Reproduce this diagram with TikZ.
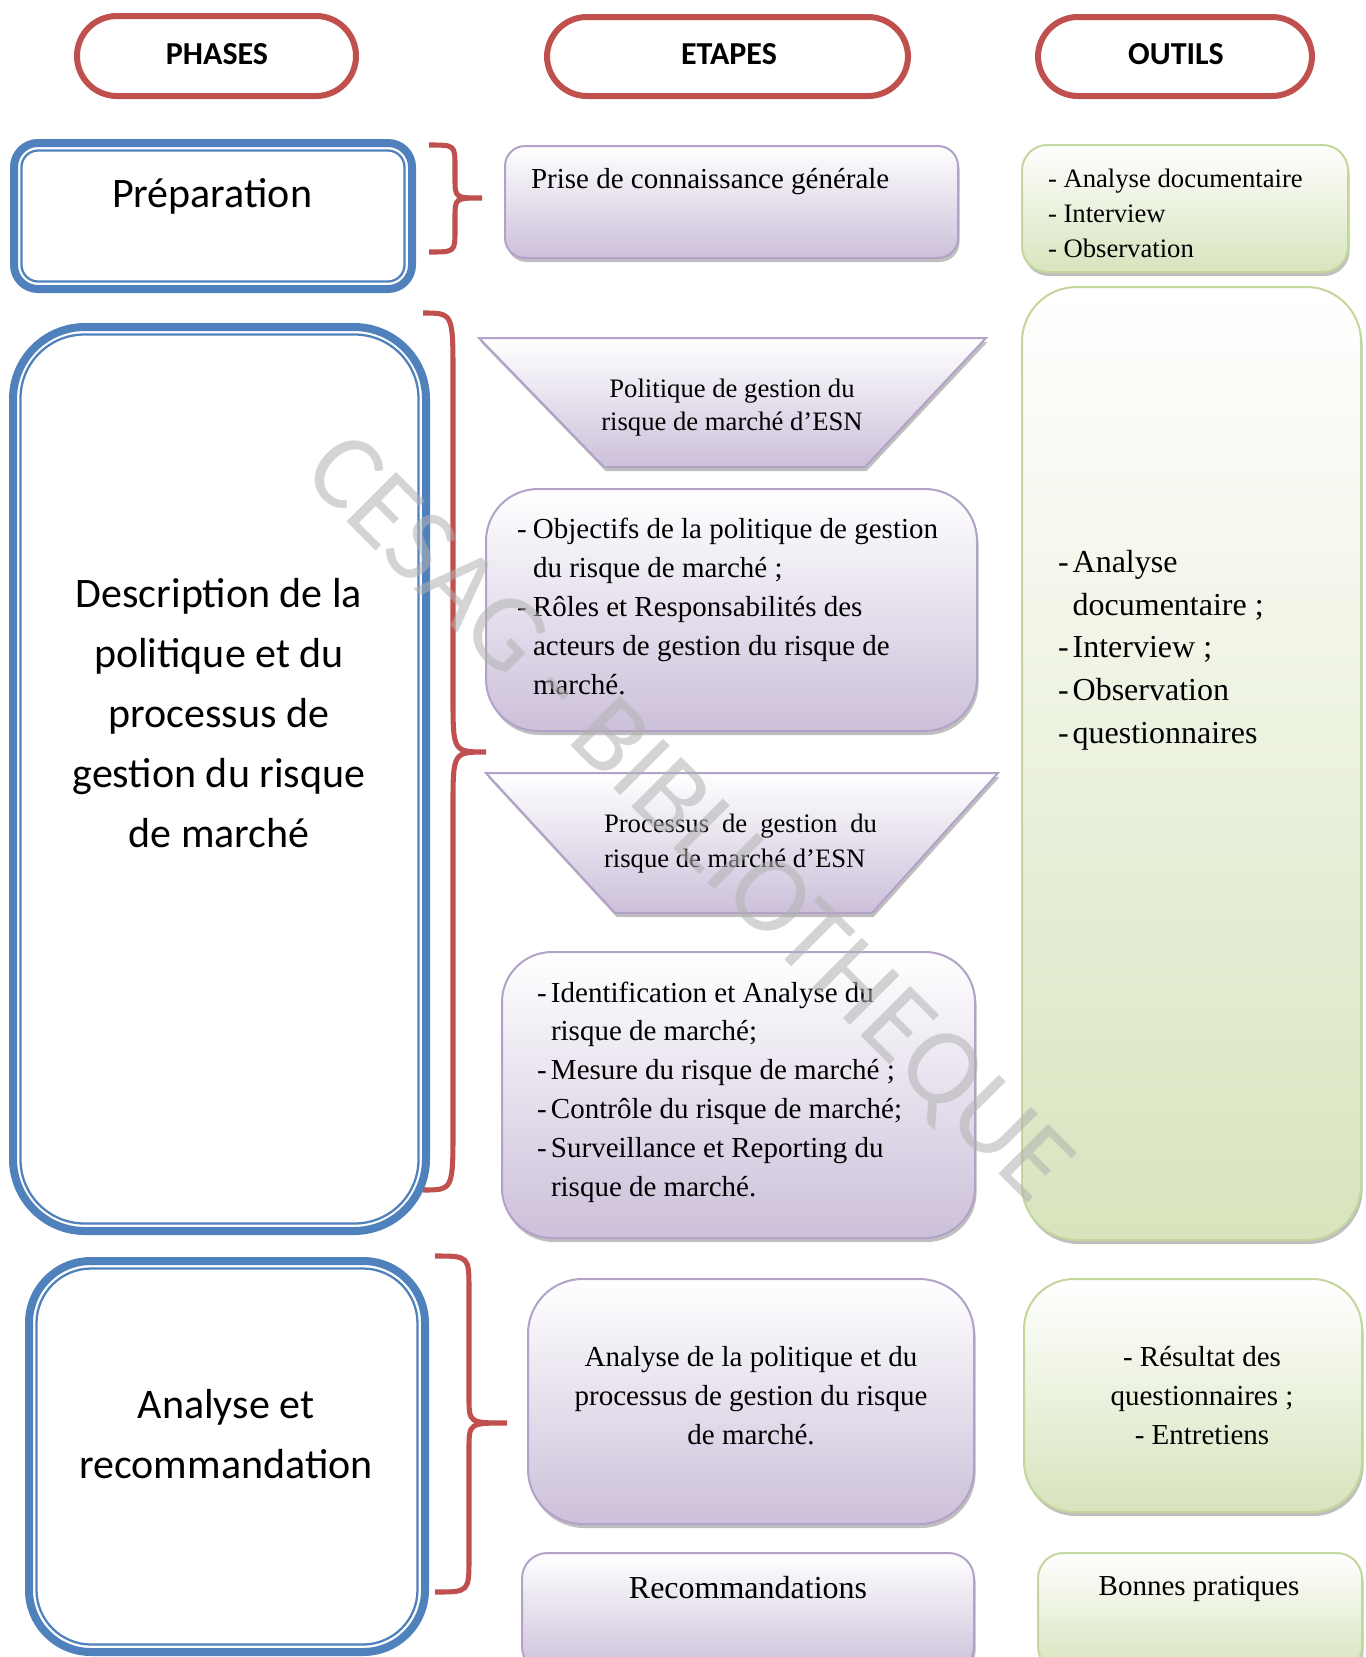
\documentclass[tikz,border=0pt]{standalone}
\usepackage{fontspec}
\setmainfont{Liberation Serif}
\newfontfamily\calfont{Carlito}
\usetikzlibrary{shadows}
\definecolor{redb}{HTML}{C0504D}
\definecolor{blueb}{HTML}{4F81BD}
\definecolor{purpb}{HTML}{B3A2C7}
\definecolor{purpf}{HTML}{CCC0DA}
\definecolor{greenb}{HTML}{C3D69B}
\definecolor{greenf}{HTML}{D7E4BD}
\newcommand\boxat[6]{%
  \node[#6, anchor=north west, inner sep=0pt, outer sep=0pt,
        minimum width={(#4-#2)*0.75pt}, minimum height={(#5-#3)*0.75pt}] (#1) at (#2,#3) {};}
\newcommand\rbrc[8]{%
  \draw[curlyb] (#1,#4) .. controls (#2,#4) .. (#2,#4+#7) -- (#2,#5-#8)
     .. controls (#2,#5) .. (#3,#5) .. controls (#2,#5) .. (#2,#5+#8)
     -- (#2,#6-#7) .. controls (#2,#6) .. (#1,#6);}
\begin{document}
\begin{tikzpicture}[x=0.75pt,y=-0.75pt,
  pill/.style={draw=redb, line width=4.5pt, fill=white, rounded corners=30pt},
  bluethick/.style={draw=blueb, line width=6pt, fill=white},
  bluethin/.style={draw=blueb, line width=1.7pt},
  shad/.style={drop shadow={shadow xshift=1.2pt, shadow yshift=-3pt, fill=black!55, opacity=0.45}},
  pbox/.style={draw=purpb, line width=1.5pt, top color=white, bottom color=purpf, shad},
  gbox/.style={draw=greenb, line width=1.5pt, top color=white, bottom color=greenf, shad},
  curlyb/.style={draw=redb, line width=3.8pt},
  txt/.style={inner sep=0pt, outer sep=0pt},
  hdr/.style={txt, font=\calfont\bfseries\fontsize{24pt}{28pt}\selectfont, anchor=base},
  phase/.style={txt, font=\calfont\fontsize{31.5pt}{45pt}\selectfont, anchor=base, align=center},
  body/.style={txt, font=\fontsize{21.75pt}{29.1pt}\selectfont}
]
\fill[white] (0,0) rectangle (1365,1657);
\useasboundingbox (0,0) rectangle (1365,1657);

% header pills
\boxat{pphases}{77}{16}{356}{96}{pill}
\boxat{petapes}{547}{17}{908}{96}{pill}
\boxat{poutils}{1038}{17}{1312}{96}{pill}
\node[hdr] (tphases) at (217,64) {PHASES};
\node[hdr] (tetapes) at (729,64) {ETAPES};
\node[hdr] (toutils) at (1176,64) {OUTILS};

% phase boxes (multi-line nodes are anchored at the baseline of their last line)
\boxat{prepA}{14}{143}{412}{289}{bluethick, rounded corners=18pt}
\boxat{prepB}{21.5}{150.5}{404.5}{281.5}{bluethin, rounded corners=12.5pt}
\node[phase] (tprep) at (212,207) {Préparation};

\boxat{descA}{13}{327}{426}{1231}{bluethick, rounded corners=54pt}
\boxat{descB}{20.5}{334.5}{418.5}{1223.5}{bluethin, rounded corners=48pt}
\node[phase] (tdesc) at (219,847) {Description de la\\politique et du\\processus de\\gestion du risque\\de marché};

\boxat{anaA}{29}{1261}{425}{1652}{bluethick, rounded corners=46.5pt}
\boxat{anaB}{36.5}{1268.5}{417.5}{1644.5}{bluethin, rounded corners=41pt}
\node[phase] (tana) at (226,1478) {Analyse et\\recommandation};

% braces
\rbrc{429}{455}{482}{145}{198}{252}{22}{20}
\rbrc{423}{453}{486}{313}{752}{1190}{62}{55}
\rbrc{435}{469}{507}{1256}{1423}{1592}{34}{26}

% etapes
\boxat{prise}{505}{146}{958}{258}{pbox, rounded corners=15pt}
\node[body, anchor=base west] (tprise) at (531,188) {Prise de connaissance générale};

\draw[pbox] (479,338) -- (986,338) -- (865,467) -- (604,467) -- cycle;
\node[txt, font=\fontsize{20pt}{24.75pt}\selectfont, anchor=base, align=center] (tpol) at (732,430)
  {Politique de gestion du\\risque de marché d’ESN};

\boxat{obj}{486}{489}{977}{731}{pbox, rounded corners=39pt}
\node[body, anchor=base west, align=left] (tobj) at (517,694)
  {\makebox[12pt][l]{-}Objectifs de la politique de gestion\\
   \hspace*{12pt}du risque de marché ;\\
   \makebox[12pt][l]{-}Rôles et Responsabilités des\\
   \hspace*{12pt}acteurs de gestion du risque de\\
   \hspace*{12pt}marché.};

\draw[pbox] (486,773) -- (998,773) -- (872,913) -- (615,913) -- cycle;
\node[txt, font=\fontsize{20pt}{26.25pt}\selectfont, anchor=base west, align=left] (tproc) at (604,867)
  {\makebox[204.75pt][s]{Processus de gestion du}\\risque de marché d’ESN};

\boxat{ident}{502}{952}{975}{1238}{pbox, rounded corners=37.5pt}
\node[body, anchor=base west, align=left] (tident) at (537,1196)
  {\makebox[10.5pt][l]{-}Identification et Analyse du\\
   \hspace*{10.5pt}risque de marché;\\
   \makebox[10.5pt][l]{-}Mesure du risque de marché ;\\
   \makebox[10.5pt][l]{-}Contrôle du risque de marché;\\
   \makebox[10.5pt][l]{-}Surveillance et Reporting du\\
   \hspace*{10.5pt}risque de marché.};

\boxat{anpol}{528}{1279}{974}{1524}{pbox, rounded corners=41pt}
\node[body, anchor=base, align=center] (tanpol) at (751,1444)
  {Analyse de la politique et du\\processus de gestion du risque\\de marché.};

\boxat{recom}{522}{1553}{974}{1672}{pbox, rounded corners=19pt}
\node[txt, font=\fontsize{24pt}{28pt}\selectfont, anchor=base] (trecom) at (748,1598) {Recommandations};

% outils
\boxat{gone}{1022}{145}{1348}{272}{gbox, rounded corners=19pt}
\node[txt, font=\fontsize{20pt}{26.25pt}\selectfont, anchor=base west, align=left] (tgone) at (1048,257)
  {- Analyse documentaire\\- Interview\\- Observation};

\boxat{gtwo}{1022}{287}{1361}{1240}{gbox, rounded corners=41pt}
\node[txt, font=\fontsize{24pt}{31.9pt}\selectfont, anchor=base west, align=left] (tgtwo) at (1058,743)
  {\makebox[11pt][l]{-}Analyse\\
   \hspace*{11pt}documentaire ;\\
   \makebox[11pt][l]{-}Interview ;\\
   \makebox[11pt][l]{-}Observation\\
   \makebox[11pt][l]{-}questionnaires};

\boxat{gthree}{1024}{1279}{1362}{1512}{gbox, rounded corners=37.5pt}
\node[body, anchor=base, align=center] (tgthree) at (1202,1444)
  {- Résultat des\\questionnaires ;\\- Entretiens};

\boxat{gfour}{1038}{1553}{1362}{1672}{gbox, rounded corners=19pt}
\node[body, anchor=base] (tgfour) at (1199,1595) {Bonnes pratiques};

% watermark
\node[txt, rotate=-45, font=\calfont\fontsize{82pt}{82pt}\selectfont, text=black!30, text opacity=0.55] (wm) at (686,821)
  {CESAG - BIBLIOTHEQUE};
\end{tikzpicture}
\end{document}
